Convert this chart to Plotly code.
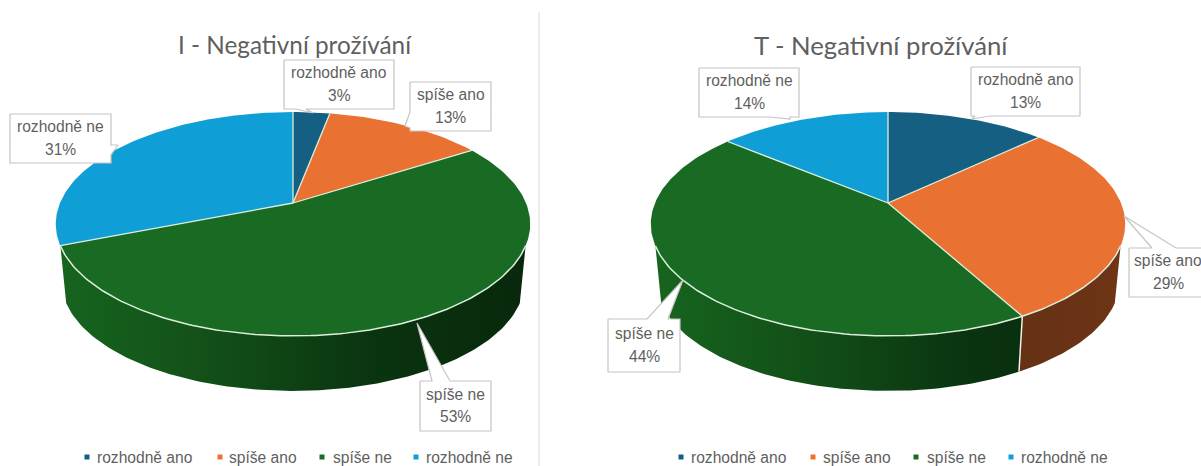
import numpy as np
import plotly.graph_objects as go

# Survey answers, in percent, for the two groups
categories = ["rozhodně ano", "spíše ano", "spíše ne", "rozhodně ne"]
values_i = [3, 13, 53, 31]
values_t = [13, 29, 44, 14]
title_i = "I - Negativní prožívání"
title_t = "T - Negativní prožívání"

colors = ["#156082", "#E97132", "#196B24", "#0F9ED5"]
# Side wall shading for each slice, from the left of the pie to the right
wall_shades = [
    ["#0c3a4f", "#082736"],
    ["#4a220d", "#6e3516"],
    ["#17651f", "#124f18", "#0a3410", "#08280c"],
    ["#0a5f82", "#0a5f82"],
]

TEXT = "#5f5f5f"
BORDER = "#c4c4c4"
FONT = "Liberation Sans"
SIZE = 15.6
EDGE = "#dcefdc"

# Perspective of the tilted disc
TILT = 0.1875
SEMI_X = 233.0
SEMI_Y = 108.0
DEPTH = 58.3
SHRINK = 0.975
CENTRE_Y = 203.0
# The wall shows only where the disc edge faces the viewer
FRONT_COS = -0.37
FRONT_A = np.arccos(FRONT_COS) / (2 * np.pi)
FRONT_B = 1 - FRONT_A


def rim(cx, frac_a, frac_b, lower=False):
    """Points on the disc edge between two cumulative shares (0 = top, clockwise)."""
    t = np.linspace(frac_a, frac_b, max(int((frac_b - frac_a) * 360), 2)) * 2 * np.pi
    u, v = np.sin(t), np.cos(t)
    w = 1 + TILT * v
    scale = SHRINK if lower else 1.0
    x = cx + scale * SEMI_X * u / w
    y = CENTRE_Y + (DEPTH if lower else 0.0) - scale * SEMI_Y * v / w
    return x, y


def add_pie(fig, cx, values):
    total = sum(values)
    edges = np.concatenate([[0], np.cumsum(values)]) / total
    # Side walls first, limited to the arc facing the viewer
    for i in range(len(values)):
        a, b = max(edges[i], FRONT_A), min(edges[i + 1], FRONT_B)
        if b <= a:
            continue
        xt, yt = rim(cx, a, b)
        xb, yb = rim(cx, a, b, lower=True)
        shades = wall_shades[i]
        scale = [[k / (len(shades) - 1), c] for k, c in enumerate(shades)]
        fig.add_trace(go.Scatter(
            x=np.concatenate([xt, xb[::-1]]), y=np.concatenate([yt, yb[::-1]]),
            mode="lines", line=dict(width=0), fill="toself",
            fillgradient=dict(type="horizontal", colorscale=scale,
                              start=cx - 237, stop=cx + 237),
        ))
    # Seams on the wall where two slices meet at the front
    for e in edges[1:-1]:
        if FRONT_A < e < FRONT_B:
            xt, yt = rim(cx, e, e + 0.001)
            xb, yb = rim(cx, e, e + 0.001, lower=True)
            fig.add_trace(go.Scatter(x=[xt[0], xb[0]], y=[yt[0], yb[0]], mode="lines",
                                     line=dict(color="#eef2ea", width=1.5)))
    # Top face
    for i in range(len(values)):
        xt, yt = rim(cx, edges[i], edges[i + 1])
        fig.add_trace(go.Scatter(
            x=np.concatenate([[cx], xt, [cx]]),
            y=np.concatenate([[CENTRE_Y], yt, [CENTRE_Y]]),
            mode="lines", fill="toself", fillcolor=colors[i], line=dict(width=0),
        ))
    # Spokes between slices, and the pale edge along the front of the disc
    for e in edges[:-1]:
        xt, yt = rim(cx, e, e + 0.001)
        fig.add_trace(go.Scatter(x=[cx, xt[0]], y=[CENTRE_Y, yt[0]], mode="lines",
                                 line=dict(color=EDGE, width=1.3)))
    xt, yt = rim(cx, FRONT_A, FRONT_B)
    fig.add_trace(go.Scatter(x=xt, y=yt, mode="lines", line=dict(color=EDGE, width=1.5)))


def add_callout(fig, box, gap, tip, lines):
    """White label box whose outline runs out to a pointer on the slice."""
    x0, y0, x1, y1 = box
    side, a, b = gap
    if side == "top":
        path = [(x0, y0), (a, y0), tip, (b, y0), (x1, y0), (x1, y1), (x0, y1), (x0, y0)]
    elif side == "bottom":
        path = [(x0, y0), (x1, y0), (x1, y1), (b, y1), tip, (a, y1), (x0, y1), (x0, y0)]
    elif side == "left":
        path = [(x0, y0), (x1, y0), (x1, y1), (x0, y1), (x0, b), tip, (x0, a), (x0, y0)]
    else:
        path = [(x0, y0), (x1, y0), (x1, a), tip, (x1, b), (x1, y1), (x0, y1), (x0, y0)]
    fig.add_trace(go.Scatter(x=[p[0] for p in path], y=[p[1] for p in path],
                             mode="lines", fill="toself", fillcolor="white",
                             line=dict(color=BORDER, width=1.2)))
    xc = (x0 + x1) / 2
    ym = (y0 + y1) / 2
    for text, yy in zip(lines, (ym - 12, ym + 10.5)):
        fig.add_annotation(x=xc, y=yy, text=text, showarrow=False,
                           font=dict(family=FONT, size=SIZE, color=TEXT),
                           xanchor="center", yanchor="middle")


def add_legend(fig, marker_x, text_x, y=457):
    for name, colour, mx, tx in zip(categories, colors, marker_x, text_x):
        fig.add_trace(go.Scatter(x=[mx], y=[y], mode="markers",
                                 marker=dict(symbol="square", size=5, color=colour)))
        fig.add_annotation(x=tx, y=y, text=name, showarrow=False, xanchor="left",
                           yanchor="middle",
                           font=dict(family=FONT, size=SIZE, color=TEXT))


fig = go.Figure()

add_pie(fig, 293, values_i)
add_pie(fig, 888, values_t)

# Labels of the left pie
add_callout(fig, (284, 60, 394, 109), ("bottom", 296, 306), (313, 113),
            [categories[0], f"{values_i[0]}%"])
add_callout(fig, (410, 82, 491, 131), ("left", 112, 128), (405, 126),
            [categories[1], f"{values_i[1]}%"])
add_callout(fig, (10, 114, 111, 163), ("right", 145, 155), (118, 145),
            [categories[3], f"{values_i[3]}%"])
add_callout(fig, (420, 381, 491, 431), ("top", 432, 450), (417, 323),
            [categories[2], f"{values_i[2]}%"])

# Labels of the right pie
add_callout(fig, (699, 68, 799, 117), ("bottom", 770, 790), (790, 119),
            [categories[3], f"{values_t[3]}%"])
add_callout(fig, (971, 67, 1080, 116), ("bottom", 975, 990), (972, 119),
            [categories[0], f"{values_t[0]}%"])
add_callout(fig, (1129, 248, 1207, 297), ("top", 1152, 1176), (1124, 216),
            [categories[1], f"{values_t[1]}%"])
add_callout(fig, (608, 319, 680, 372), ("top", 647, 668), (683, 280),
            [categories[2], f"{values_t[2]}%"])

add_legend(fig, [87, 220, 322, 416], [95, 227, 331, 424])
add_legend(fig, [681, 813, 916, 1011], [689, 821, 925, 1019])

# Rule between the two charts
fig.add_trace(go.Scatter(x=[539, 539], y=[12, 466], mode="lines",
                         line=dict(color="#d9d9d9", width=1)))

fig.add_annotation(x=294.5, y=44.5, text=title_i, showarrow=False,
                   font=dict(family="Lato", size=24.3, color=TEXT))
fig.add_annotation(x=880.5, y=44.5, text=title_t, showarrow=False,
                   font=dict(family="Lato", size=25.7, color=TEXT))

fig.update_layout(
    width=1201, height=466, autosize=False,
    margin=dict(l=0, r=0, t=0, b=0),
    paper_bgcolor="white", plot_bgcolor="white",
    showlegend=False, hovermode=False,
    xaxis=dict(range=[0, 1201], visible=False, fixedrange=True),
    yaxis=dict(range=[466, 0], visible=False, fixedrange=True),
)

fig.write_html("out.html", config=dict(displayModeBar=False))
